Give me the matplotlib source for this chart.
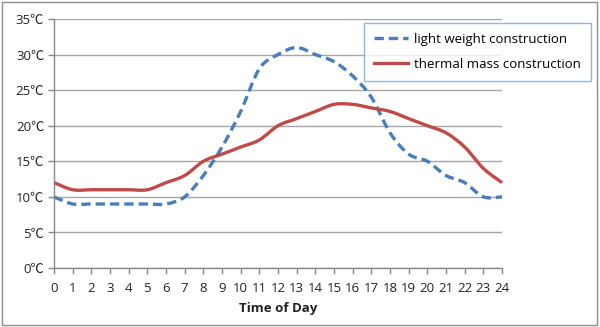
import matplotlib
matplotlib.use("Agg")
import matplotlib.pyplot as plt
import numpy as np
from matplotlib.path import Path
from matplotlib.patches import PathPatch, Rectangle
from matplotlib.lines import Line2D

hours = list(range(0, 25))
light_weight = [10, 9, 9, 9, 9, 9, 9, 10, 13, 17, 22, 28, 30, 31, 30, 29, 27, 24,
                19, 16, 15, 13, 12, 10, 10]
thermal_mass = [12, 11, 11, 11, 11, 11, 12, 13, 15, 16, 17, 18, 20, 21, 22, 23, 23,
                22.5, 22, 21, 20, 19, 17, 14, 12]
y_ticks = [0, 5, 10, 15, 20, 25, 30, 35]
series_names = ["light weight construction", "thermal mass construction"]

BLUE = "#4a7ebb"
RED = "#be4b48"
GRID = "#a6a6a6"
FONT = ["Open Sans", "Noto Sans CJK SC", "DejaVu Sans"]
DASH = (0, (2.8, 1.5))


def smooth_path(x, y, tension=1 / 6):
    """Cubic Bezier path through the points (Catmull-Rom style control points)."""
    x = np.asarray(x, float)
    y = np.asarray(y, float)
    n = len(x)
    verts = [(x[0], y[0])]
    codes = [Path.MOVETO]
    for i in range(n - 1):
        p0 = (x[max(i - 1, 0)], y[max(i - 1, 0)])
        p1 = (x[i], y[i])
        p2 = (x[i + 1], y[i + 1])
        p3 = (x[min(i + 2, n - 1)], y[min(i + 2, n - 1)])
        c1 = (p1[0] + (p2[0] - p0[0]) * tension, p1[1] + (p2[1] - p0[1]) * tension)
        c2 = (p2[0] - (p3[0] - p1[0]) * tension, p2[1] - (p3[1] - p1[1]) * tension)
        verts += [c1, c2, p2]
        codes += [Path.CURVE4] * 3
    return Path(verts, codes)


fig = plt.figure(figsize=(6.0, 3.27), dpi=100)
fig.patch.set_facecolor("white")
fig.add_artist(Rectangle((0.004, 0.007), 0.991, 0.986, transform=fig.transFigure,
                         fill=False, edgecolor="#8c8c8c", linewidth=1.0))

ax = fig.add_axes([0.09, 0.1804, 0.7467, 0.7615])
ax.set_xlim(0, 24)
ax.set_ylim(0, 35)
ax.set_yticks(y_ticks)
ax.set_yticklabels([f"{v}\u2103" for v in y_ticks], fontfamily=FONT, fontsize=9.5)
ax.set_xticks(hours)
ax.set_xticklabels([str(h) for h in hours], fontfamily=FONT, fontsize=9.5)
ax.yaxis.grid(True, color=GRID, linewidth=1.0)
ax.set_axisbelow(True)
for side in ("top", "right"):
    ax.spines[side].set_visible(False)
for side in ("left", "bottom"):
    ax.spines[side].set_color("#888888")
    ax.spines[side].set_linewidth(1.0)
ax.tick_params(axis="both", colors="#888888", labelcolor="#222222", length=4, width=1)
ax.tick_params(axis="x", pad=6)
ax.tick_params(axis="y", pad=3)

ax.add_patch(PathPatch(smooth_path(hours, light_weight), fill=False, edgecolor=BLUE,
                       linewidth=2.4, linestyle=DASH, capstyle="butt",
                       clip_on=False))
ax.add_patch(PathPatch(smooth_path(hours, thermal_mass), fill=False, edgecolor=RED,
                       linewidth=2.4, clip_on=False))

ax.set_xlabel("Time of Day", fontfamily=FONT, fontsize=9.5, fontweight="bold",
              color="#222222", labelpad=5)

handles = [Line2D([], [], color=BLUE, linewidth=2.4, linestyle=DASH),
           Line2D([], [], color=RED, linewidth=2.4)]
leg = fig.legend(handles, series_names, loc="upper left",
                 bbox_to_anchor=(0.607, 0.93), prop={"family": FONT, "size": 9.5},
                 frameon=True, fancybox=False, handlelength=2.6, handletextpad=0.45,
                 borderpad=0.75, borderaxespad=0.0, labelspacing=0.9)
leg.get_frame().set_edgecolor("#7ba0cd")
leg.get_frame().set_linewidth(1.0)

fig.savefig("out.png", dpi=100, facecolor="white")
